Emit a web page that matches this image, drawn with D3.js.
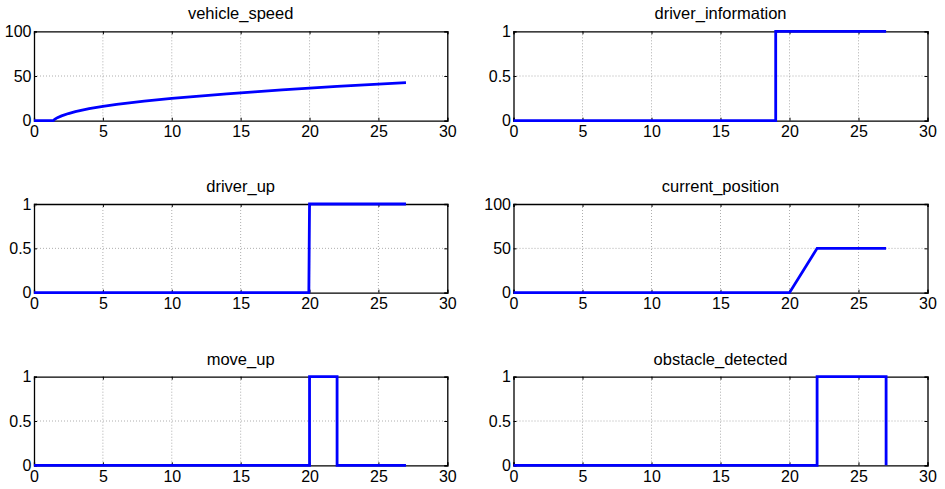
<!DOCTYPE html>
<html>
<head>
<meta charset="utf-8">
<script src="https://cdn.jsdelivr.net/npm/d3@7"></script>
<style>
  html, body { margin: 0; padding: 0; background: #fff; }
  svg { display: block; }
  text { font-family: "Liberation Sans", Arial, Helvetica, sans-serif; fill: #000; }
</style>
</head>
<body>
<svg id="chart" width="945" height="489"></svg>
<script>
// ---- Data ----
const titles = ["vehicle_speed", "driver_information", "driver_up", "current_position", "move_up", "obstacle_detected"];
const xTicks = [0, 5, 10, 15, 20, 25, 30];
const yTicks100 = [0, 50, 100];
const yTicks1 = [0, 0.5, 1];
const yTickLabels1 = ["0", "0.5", "1"];

const speedT = [0, 1.4, 1.5, 1.7, 2, 2.5, 3, 4, 5, 6, 8, 10, 12, 14, 16, 18, 20, 22, 24, 26, 27];
const speedV = [0, 0, 1.5, 3.4, 5.4, 8, 10.2, 13.4, 16, 18.2, 21.8, 25, 27.6, 30, 32.3, 34.4, 36.4, 38.3, 40, 41.8, 42.6];

const driverInfoT = [0, 19, 19, 27];
const driverInfoV = [0, 0, 1, 1];

const driverUpT = [0, 19.95, 20, 27];
const driverUpV = [0, 0, 1, 1];

const positionT = [0, 20, 22, 27];
const positionV = [0, 0, 50, 50];

const moveUpT = [0, 20, 20, 22, 22, 27];
const moveUpV = [0, 0, 1, 1, 0, 0];

const obstacleT = [0, 22, 22, 27, 27];
const obstacleV = [0, 0, 1, 1, 0];

const seriesT = [speedT, driverInfoT, driverUpT, positionT, moveUpT, obstacleT];
const seriesV = [speedV, driverInfoV, driverUpV, positionV, moveUpV, obstacleV];
const yMax = [100, 1, 1, 100, 1, 1];

// ---- Layout ----
const colX = [[34, 447.3], [513.5, 927.5]];
const rowY = [[31.3, 120.7], [204, 292.7], [376.7, 465.3]];
const svg = d3.select("#chart");
const FS = 16;
const TFS = 16.5;

titles.forEach((title, i) => {
  const col = i % 2, row = Math.floor(i / 2);
  const [x0, x1] = colX[col];
  const [y0, y1] = rowY[row];
  const x = d3.scaleLinear().domain([0, 30]).range([x0, x1]);
  const y = d3.scaleLinear().domain([0, yMax[i]]).range([y1, y0]);
  const yt = yMax[i] === 100 ? yTicks100 : yTicks1;
  const g = svg.append("g");

  // grid
  g.append("g").selectAll("line").data(xTicks.slice(1, -1)).join("line")
    .attr("x1", d => x(d)).attr("x2", d => x(d)).attr("y1", y0).attr("y2", y1)
    .attr("stroke", "#999").attr("stroke-width", 0.8).attr("stroke-dasharray", "1,2");
  g.append("g").selectAll("line").data(yt.slice(1, -1)).join("line")
    .attr("y1", d => y(d)).attr("y2", d => y(d)).attr("x1", x0).attr("x2", x1)
    .attr("stroke", "#999").attr("stroke-width", 0.8).attr("stroke-dasharray", "1,2");

  // axes
  const fmtY = yMax[i] === 100 ? d3.format("d") : (d => yTickLabels1[yTicks1.indexOf(d)]);
  const ax = [
    g.append("g").attr("transform", `translate(0,${y1})`)
      .call(d3.axisBottom(x).tickValues(xTicks).tickSize(-3).tickPadding(5).tickFormat(d3.format("d"))),
    g.append("g").attr("transform", `translate(0,${y0})`)
      .call(d3.axisTop(x).tickValues(xTicks).tickSize(-3).tickFormat("")),
    g.append("g").attr("transform", `translate(${x0},0)`)
      .call(d3.axisLeft(y).tickValues(yt).tickSize(-3).tickPadding(2.5).tickFormat(fmtY)),
    g.append("g").attr("transform", `translate(${x1},0)`)
      .call(d3.axisRight(y).tickValues(yt).tickSize(-3).tickFormat(""))
  ];
  ax.forEach(a => {
    a.select(".domain").attr("stroke", "#000").attr("stroke-width", 1.3);
    a.selectAll(".tick line").attr("stroke", "#000").attr("stroke-width", 1);
    a.selectAll(".tick text").attr("font-size", FS).attr("font-family", null).attr("fill", "#000");
    a.attr("font-family", null).attr("font-size", null);
  });

  // line
  const pts = seriesT[i].map((t, k) => [t, seriesV[i][k]]);
  g.append("path").datum(pts)
    .attr("fill", "none").attr("stroke", "#0000ff").attr("stroke-width", 2.8)
    .attr("stroke-linejoin", "miter")
    .attr("d", d3.line().x(d => x(d[0])).y(d => y(d[1])));

  // title
  g.append("text").attr("x", (x0 + x1) / 2).attr("y", y0 - 12)
    .attr("text-anchor", "middle").attr("font-size", TFS).text(title);
});
</script>
</body>
</html>
